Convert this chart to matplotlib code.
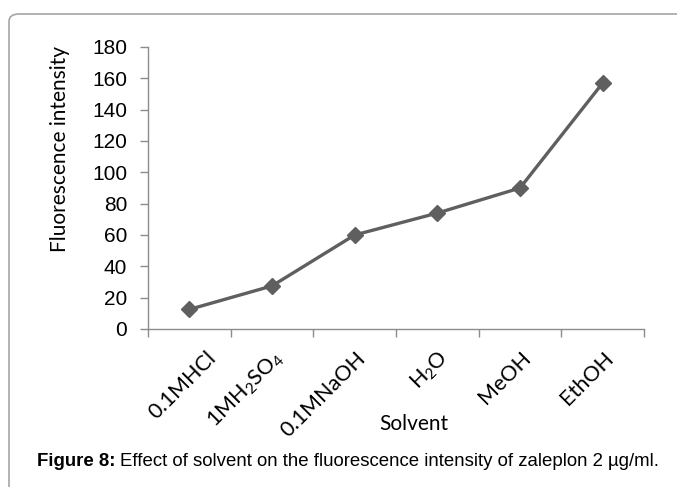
import numpy as np
import matplotlib
matplotlib.use('Agg')
import matplotlib.pyplot as plt
from matplotlib.patches import FancyBboxPatch
from matplotlib.transforms import ScaledTranslation

# data
solvents = ['0.1MHCl', r'1MH$_{\mathregular{2}}$SO$_{\mathregular{4}}$', '0.1MNaOH',
            r'H$_{\mathregular{2}}$O', 'MeOH', 'EthOH']
intensity = [12.5, 27.5, 60, 74, 90, 157]
yticks = [0, 20, 40, 60, 80, 100, 120, 140, 160, 180]

W, H = 677, 487
fig = plt.figure(figsize=(W / 100, H / 100), dpi=100)
plt.rcParams['mathtext.fontset'] = 'custom'
plt.rcParams['mathtext.rm'] = 'Lato'

# rounded frame around the figure (clipped at right and bottom)
frame = FancyBboxPatch((9 / W, -0.2), 1.2, 1 - 14 / H + 0.2,
                       boxstyle='round,pad=0,rounding_size=0.015',
                       transform=fig.transFigure, fill=False,
                       edgecolor='#a6a6a6', linewidth=1.2)
fig.patches.append(frame)

ax = fig.add_axes([148 / W, 1 - 329 / H, (644 - 148) / W, (329 - 47) / H])
x = np.arange(len(solvents))
ax.plot(x, intensity, color='#5f5f5f', linewidth=2.4, marker='D', markersize=8,
        markerfacecolor='#5f5f5f', markeredgecolor='#5f5f5f')

ax.set_xlim(-0.5, len(solvents) - 0.5)
ax.set_ylim(0, 180)
for s in ['top', 'right']:
    ax.spines[s].set_visible(False)
for s in ['left', 'bottom']:
    ax.spines[s].set_color('#8c8c8c')
    ax.spines[s].set_linewidth(1.0)

ax.set_yticks(yticks)
ax.set_yticklabels([str(v) for v in yticks], family='Liberation Sans', fontsize=15)
ax.tick_params(axis='y', length=6, width=1, color='#8c8c8c', pad=9)

# tick marks between categories, labels at centers
ax.set_xticks(np.arange(-0.5, len(solvents)))
ax.set_xticklabels([])
ax.tick_params(axis='x', which='major', length=6, width=1, color='#8c8c8c')
ax.set_xticks(x, minor=True)
ax.set_xticklabels(solvents, minor=True, rotation=45, ha='right', va='center',
                   rotation_mode='anchor', family='Lato', fontsize=15.5)
ax.tick_params(axis='x', which='minor', length=0, pad=0)
for i, lab in enumerate(ax.get_xticklabels(minor=True)):
    dx = 24 if i == 0 else 8   # first label pushed right to stay inside
    off = ScaledTranslation(dx / 100, -26 / 100, fig.dpi_scale_trans)
    lab.set_transform(lab.get_transform() + off)

ax.set_ylabel('Fluorescence intensity', family='Lato', fontsize=15,
              ha='center', va='center')
ax.yaxis.set_label_coords((60 - 148) / 496, (329 - 149) / 282)
ax.set_xlabel('Solvent', family='Lato', fontsize=15, ha='center', va='center')
ax.xaxis.set_label_coords((414 - 148) / 496, -(424 - 329) / 282)

cap_y = 1 - 461 / H
t1 = fig.text(37 / W, cap_y, 'Figure 8:', family='Liberation Sans',
              fontweight='bold', fontsize=13.4, va='center', ha='left')
fig.canvas.draw()
x1 = t1.get_window_extent().x1
fig.text((x1 + 4) / W, cap_y,
         'Effect of solvent on the fluorescence intensity of zaleplon 2 \u00b5g/ml.',
         family='Liberation Sans', fontsize=13.4, va='center', ha='left')

fig.savefig('out.png', dpi=100)
